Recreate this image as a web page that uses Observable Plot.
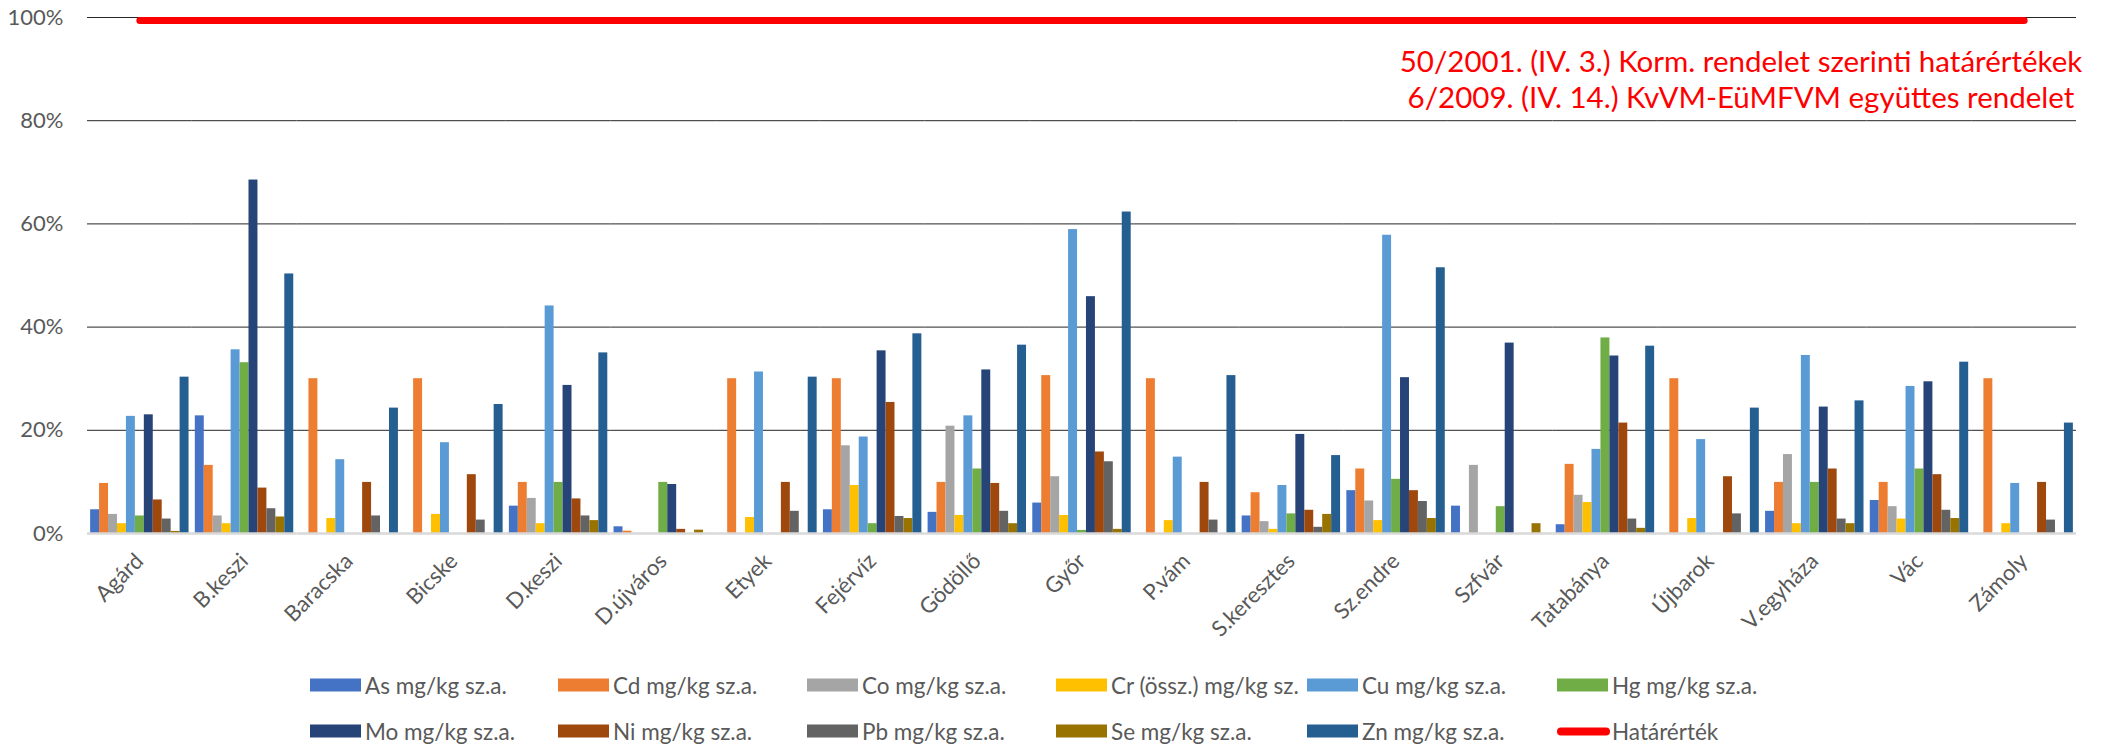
<!DOCTYPE html>
<html><head><meta charset="utf-8">
<script src="https://cdn.jsdelivr.net/npm/d3@7"></script>
<script src="https://cdn.jsdelivr.net/npm/@observablehq/plot@0.6"></script>
<style>
body{margin:0;background:#fff;font-family:Lato, sans-serif;}
#wrap{position:relative;width:2111px;height:744px;overflow:hidden;background:#fff;}
#wrap svg{position:absolute;left:0;top:0;}
.note{position:absolute;color:#FF0000;font-size:29.5px;line-height:36px;text-align:center;white-space:nowrap;transform:translateX(-50%);}
.lg{position:absolute;display:flex;align-items:center;font-size:22.5px;color:#595959;white-space:nowrap;transform:translateY(-50%);}
.sw{width:51px;height:13px;margin-right:4px;}
.swl{width:53px;height:8px;border-radius:4px;margin-right:2px;}
</style></head><body><div id="wrap"></div>
<script>
const categories = ["Agárd","B.keszi","Baracska","Bicske","D.keszi","D.újváros","Etyek","Fejérvíz","Gödöllő","Győr","P.vám","S.keresztes","Sz.endre","Szfvár","Tatabánya","Újbarok","V.egyháza","Vác","Zámoly"];
const seriesNames = ["As mg/kg sz.a.","Cd mg/kg sz.a.","Co mg/kg sz.a.","Cr (össz.) mg/kg sz.","Cu mg/kg sz.a.","Hg mg/kg sz.a.","Mo mg/kg sz.a.","Ni mg/kg sz.a.","Pb mg/kg sz.a.","Se mg/kg sz.a.","Zn mg/kg sz.a."];
const seriesColors = ["#4472C4","#ED7D31","#A5A5A5","#FFC000","#5B9BD5","#70AD47","#264478","#9E480E","#636363","#997300","#255E91"];
// values in % of the limit value
const As = [4.6,22.8,null,null,5.3,1.3,null,4.6,4.1,5.9,null,3.4,8.3,5.3,1.7,null,4.3,6.4,null];
const Cd = [9.7,13.2,30.0,30.0,9.9,0.45,30.0,30.0,9.9,30.6,30.0,7.9,12.5,null,13.4,30.0,9.9,9.9,30.0];
const Co = [3.7,3.4,null,null,6.8,null,null,17.0,20.8,11.0,null,2.3,6.3,13.2,7.4,null,15.3,5.2,null];
const Cr = [1.9,1.9,2.9,3.7,1.9,null,3.1,9.3,3.5,3.5,2.5,0.8,2.5,null,6.0,2.9,1.9,2.8,1.9];
const Cu = [22.7,35.6,14.3,17.6,44.1,null,31.3,18.7,22.8,58.9,14.8,9.3,57.8,null,16.3,18.2,34.5,28.5,9.7];
const Hg = [3.4,33.1,null,null,9.9,9.9,null,1.9,12.5,0.6,null,3.8,10.5,5.2,37.9,null,9.9,12.5,null];
const Mo = [23.0,68.5,null,null,28.7,9.5,null,35.4,31.7,45.9,null,19.2,30.2,36.9,34.4,null,24.5,29.4,null];
const Ni = [6.5,8.8,9.9,11.4,6.7,0.8,9.9,25.4,9.7,15.8,9.9,4.5,8.3,null,21.4,11.0,12.5,11.4,9.9];
const Pb = [2.8,4.8,3.4,2.6,3.4,null,4.3,3.3,4.3,13.9,2.6,1.2,6.2,null,2.8,3.8,2.8,4.5,2.6];
const Se = [0.4,3.2,null,null,2.5,0.65,null,2.9,1.9,0.8,null,3.7,2.9,1.9,1.0,null,1.9,2.9,null];
const Zn = [30.3,50.3,24.3,25.0,35.0,null,30.3,38.7,36.5,62.3,30.6,15.1,51.5,null,36.3,24.3,25.7,33.2,21.4];
const limitLabel = "Határérték";
const limitValue = 100;
const limitColor = "#FF0000";
const yTicks = [0,20,40,60,80,100];
const noteLines = ["50/2001. (IV. 3.) Korm. rendelet szerinti határértékek","6/2009. (IV. 14.) KvVM-EüMFVM együttes rendelet"];

const seriesValues = [As,Cd,Co,Cr,Cu,Hg,Mo,Ni,Pb,Se,Zn];
const rows = [];
categories.forEach((c, i) => seriesNames.forEach((s, j) => {
  const v = seriesValues[j][i];
  if (v != null) rows.push({cat: c, series: s, value: v});
}));
const limitRows = categories.map(c => ({cat: c, value: limitValue}));

const W = 2111, H = 660, mL = 87, mR = 35, mT = 17, mB = 127;
const wrap = document.getElementById("wrap");

const main = Plot.plot({
  width: W, height: H, marginLeft: mL, marginRight: mR, marginTop: mT, marginBottom: mB,
  style: {fontFamily: "Lato, sans-serif", fontSize: "22px", color: "#595959", background: "transparent"},
  facet: {data: rows, x: "cat"},
  fx: {domain: categories, padding: 0, round: false, label: null, tickRotate: -45, tickSize: 0, tickPadding: 24},
  x: {domain: seriesNames, paddingInner: 0, paddingOuter: 0.35, round: false, axis: null},
  y: {domain: [0, 100], ticks: 5, tickFormat: d => d + "%", tickSize: 0, tickPadding: 24, label: null},
  color: {domain: seriesNames, range: seriesColors},
  marks: [
    Plot.ruleY(yTicks.filter(d => d > 0), {stroke: "#262626", strokeWidth: 1}),
    Plot.barY(rows, {x: "series", y: "value", fill: "series"}),
    Plot.ruleY([0], {stroke: "#d9d9d9", strokeWidth: 2.5})
  ]
});
wrap.appendChild(main);

const overlay = Plot.plot({
  width: W, height: H, marginLeft: mL, marginRight: mR, marginTop: mT, marginBottom: mB,
  style: {background: "transparent", overflow: "visible"},
  x: {type: "point", domain: categories, padding: 0.5, round: false, axis: null},
  y: {domain: [0, 100], axis: null},
  marks: [
    Plot.lineY(limitRows, {x: "cat", y: "value", dy: 3, stroke: limitColor, strokeWidth: 7, strokeLinecap: "round"})
  ]
});
overlay.style.pointerEvents = "none";
wrap.appendChild(overlay);

// annotation
const note = document.createElement("div");
note.className = "note";
note.style.left = "1741px";
note.style.top = "43px";
note.innerHTML = noteLines.join("<br>");
wrap.appendChild(note);

// legend
const legendCols = [310, 558, 807, 1056, 1307, 1557];
const legendRows = [685, 731];
const items = seriesNames.map((s, i) => ({label: s, color: seriesColors[i], line: false}));
items.push({label: limitLabel, color: limitColor, line: true});
items.forEach((it, k) => {
  const d = document.createElement("div");
  d.className = "lg";
  d.style.left = legendCols[k % 6] + "px";
  d.style.top = legendRows[Math.floor(k / 6)] + "px";
  const sw = document.createElement("span");
  sw.className = it.line ? "swl" : "sw";
  sw.style.background = it.color;
  const t = document.createElement("span");
  t.textContent = it.label;
  d.appendChild(sw); d.appendChild(t);
  wrap.appendChild(d);
});
</script></body></html>
